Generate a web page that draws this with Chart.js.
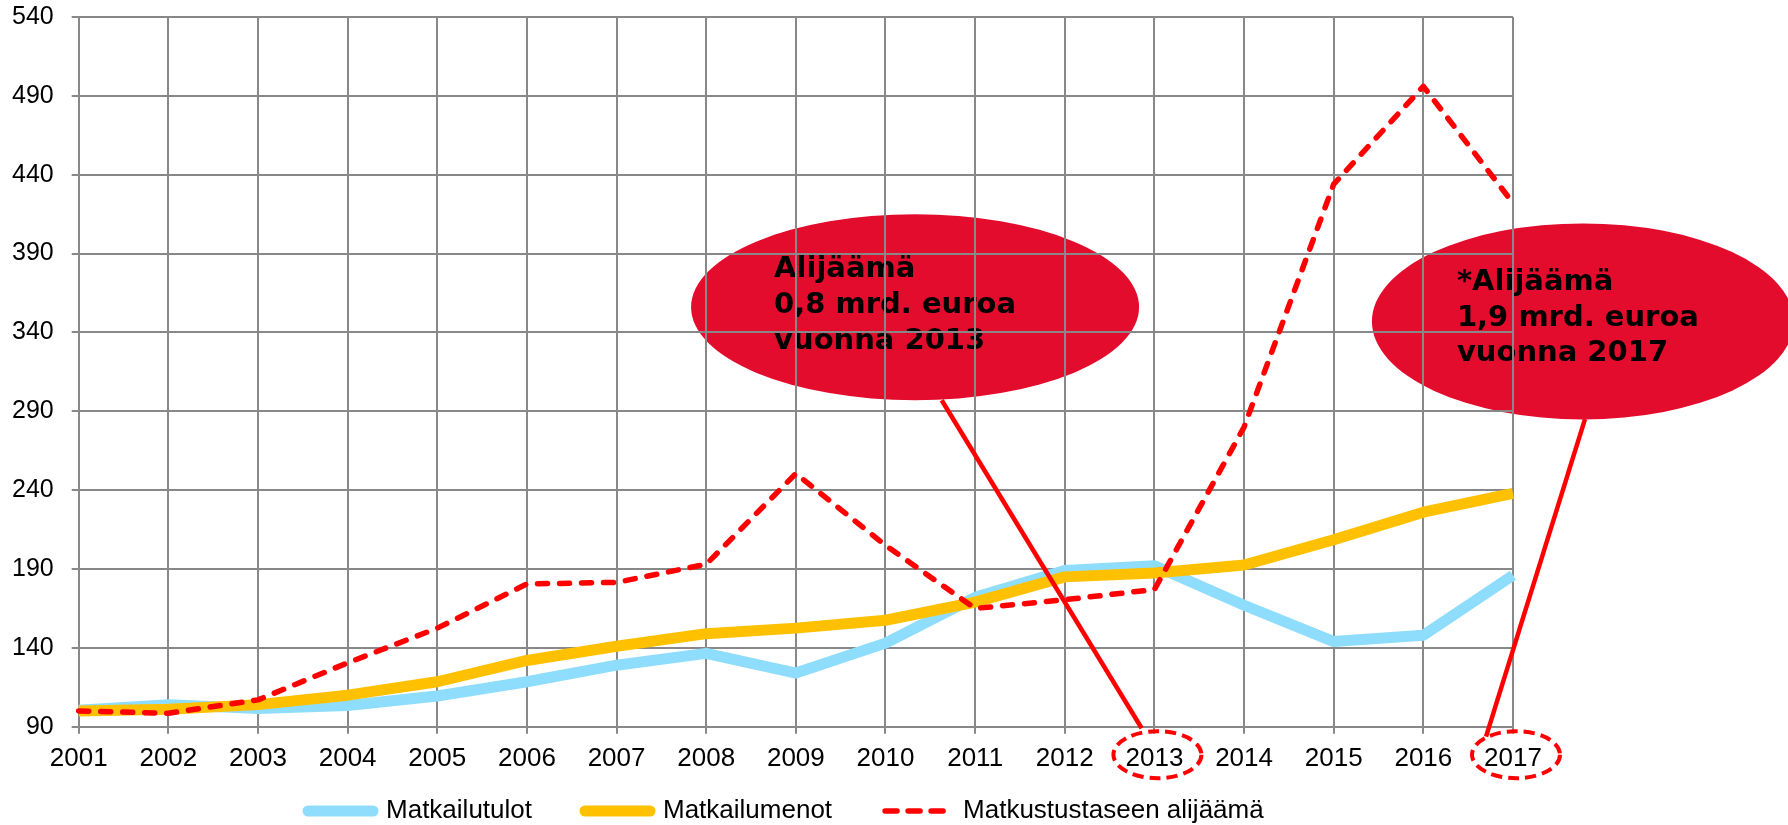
<!DOCTYPE html>
<html>
<head>
<meta charset="utf-8">
<script src="https://cdn.jsdelivr.net/npm/chart.js@4.4.1/dist/chart.umd.min.js"></script>
<style>
  html, body { margin: 0; padding: 0; background: #ffffff; }
  #wrap { width: 1788px; height: 825px; position: relative; overflow: hidden; }
</style>
</head>
<body>
<div id="wrap"><canvas id="c" width="1788" height="825"></canvas></div>
<script>
// ---- data ----
const years = ['2001','2002','2003','2004','2005','2006','2007','2008','2009','2010','2011','2012','2013','2014','2015','2016','2017'];
const matkailutulot = [100.5, 104, 101.5, 103.5, 109.5, 118.5, 129, 136.5, 124, 143, 172, 189, 192, 167, 144, 148, 186];
const matkailumenot = [100, 101, 104, 110, 118.5, 132, 141, 149, 152.5, 157.5, 169, 185, 187.5, 192.5, 208.5, 226, 238];
const alijaama = [100, 98.5, 107, 130.5, 152.5, 180.5, 181.5, 193, 250.5, 205, 165, 170.5, 177, 280, 434, 496, 422];
const seriesNames = ['Matkailutulot', 'Matkailumenot', 'Matkustustaseen alijäämä'];
const yMin = 90, yMax = 540, yStep = 50;

// ---- callout annotations (anchors in data space: [category index, value]) ----
const calloutTexts = [
  ['Alijäämä', '0,8 mrd. euroa', 'vuonna 2013'],
  ['*Alijäämä', '1,9 mrd. euroa', 'vuonna 2017']
];
const calloutCenters = [[9.33, 356], [16.78, 347]];
const calloutPointers = [[[9.627, 297], [11.858, 89]], [[16.803, 285], [15.699, 83.7]]];
const circledYears = ['2013', '2017'];

// ---- styles ----
const GRID = '#888888';
const BLUE = '#8FDDFD';
const ORANGE = '#FFC000';
const RED = '#FF0000';
const CALLOUT = '#E30C2C';
const calloutStyle = [
  { rx: 224, ry: 93, tx: -141, ty: -30, step: 36 },
  { rx: 211, ry: 98, tx: -126, ty: -31, step: 35.5 }
];

const annotations = {
  id: 'annotations',
  beforeDraw(chart) {
    const { ctx, scales: { x, y } } = chart;
    ctx.save();
    calloutCenters.forEach((c, i) => {
      const st = calloutStyle[i];
      const cx = x.getPixelForValue(c[0]);
      const cy = y.getPixelForValue(c[1]);
      ctx.fillStyle = CALLOUT;
      ctx.beginPath();
      ctx.ellipse(cx, cy, st.rx, st.ry, 0, 0, Math.PI * 2);
      ctx.fill();
      ctx.fillStyle = '#000000';
      ctx.font = 'bold 29px "DejaVu Sans", Verdana, sans-serif';
      ctx.textAlign = 'left';
      ctx.textBaseline = 'alphabetic';
      calloutTexts[i].forEach((t, k) => {
        ctx.fillText(t, cx + st.tx, cy + st.ty + k * st.step);
      });
    });
    ctx.restore();
  },
  afterDraw(chart) {
    const { ctx, scales: { x, y }, chartArea } = chart;
    ctx.save();
    ctx.strokeStyle = RED;
    ctx.lineWidth = 4.5;
    ctx.lineCap = 'butt';
    calloutPointers.forEach((p) => {
      ctx.beginPath();
      ctx.moveTo(x.getPixelForValue(p[0][0]), y.getPixelForValue(p[0][1]));
      ctx.lineTo(x.getPixelForValue(p[1][0]), y.getPixelForValue(p[1][1]));
      ctx.stroke();
    });
    ctx.lineWidth = 4;
    ctx.setLineDash([11, 6]);
    circledYears.forEach((yr) => {
      const cx = x.getPixelForValue(years.indexOf(yr)) + 3;
      const cy = chartArea.bottom + 28;
      ctx.beginPath();
      ctx.ellipse(cx, cy, 44, 23.5, 0, 0, Math.PI * 2);
      ctx.stroke();
    });
    ctx.restore();
  },
  afterLayout(chart) {
    const lg = chart.legend;
    if (lg) {
      lg.left -= 10;
      lg.right -= 10;
      lg.top -= 26.7;
    }
  }
};

const legendStyles = [
  { color: BLUE, width: 11, dash: [] },
  { color: ORANGE, width: 11, dash: [] },
  { color: RED, width: 5.5, dash: [12, 11] }
];

new Chart(document.getElementById('c'), {
  type: 'line',
  data: {
    labels: years,
    datasets: [
      { label: seriesNames[0], data: matkailutulot, borderColor: BLUE, backgroundColor: BLUE,
        borderWidth: 11, pointRadius: 0, borderJoinStyle: 'round', tension: 0, order: 2 },
      { label: seriesNames[1], data: matkailumenot, borderColor: ORANGE, backgroundColor: ORANGE,
        borderWidth: 11, pointRadius: 0, borderJoinStyle: 'round', tension: 0, order: 1 },
      { label: seriesNames[2], data: alijaama, borderColor: RED, backgroundColor: RED,
        borderWidth: 5.5, borderDash: [10, 12], borderCapStyle: 'round', pointRadius: 0,
        borderJoinStyle: 'round', tension: 0, order: 0 }
    ]
  },
  options: {
    responsive: false,
    animation: false,
    devicePixelRatio: 1,
    layout: { padding: { top: 17, left: 0, right: 275, bottom: 0 } },
    plugins: {
      tooltip: { enabled: false },
      legend: {
        position: 'bottom',
        align: 'center',
        fullSize: false,
        maxHeight: 53.3,
        labels: {
          usePointStyle: true,
          pointStyle: 'line',
          pointStyleWidth: 65,
          boxHeight: 10,
          padding: 53,
          color: '#000000',
          font: { family: '"Liberation Sans", Arial, sans-serif', size: 26 },
          generateLabels(chart) {
            return chart.data.datasets.map((ds, i) => ({
              text: ds.label,
              fillStyle: legendStyles[i].color,
              strokeStyle: legendStyles[i].color,
              lineWidth: legendStyles[i].width,
              lineDash: legendStyles[i].dash,
              lineCap: 'round',
              pointStyle: 'line',
              fontColor: '#000000',
              hidden: false,
              datasetIndex: i
            }));
          }
        }
      }
    },
    scales: {
      x: {
        type: 'category',
        offset: false,
        grid: { display: true, color: GRID, lineWidth: 2, tickLength: 7, offset: false },
        border: { display: true, color: GRID, width: 2 },
        ticks: {
          color: '#000000', padding: 10, autoSkip: false, maxRotation: 0,
          font: { family: '"Liberation Sans", Arial, sans-serif', size: 26 }
        },
        afterFit(scale) { scale.height = 45; }
      },
      y: {
        type: 'linear',
        min: yMin, max: yMax,
        grid: { display: true, color: GRID, lineWidth: 2, tickLength: 7 },
        border: { display: true, color: GRID, width: 2 },
        ticks: {
          stepSize: yStep, color: '#000000', padding: 18,
          font: { family: '"Liberation Sans", Arial, sans-serif', size: 25 }
        },
        afterFit(scale) {
          scale.width = 78.7;
          scale.paddingTop = 0;
          scale.paddingBottom = 0;
        }
      }
    }
  },
  plugins: [annotations]
});
</script>
</body>
</html>
